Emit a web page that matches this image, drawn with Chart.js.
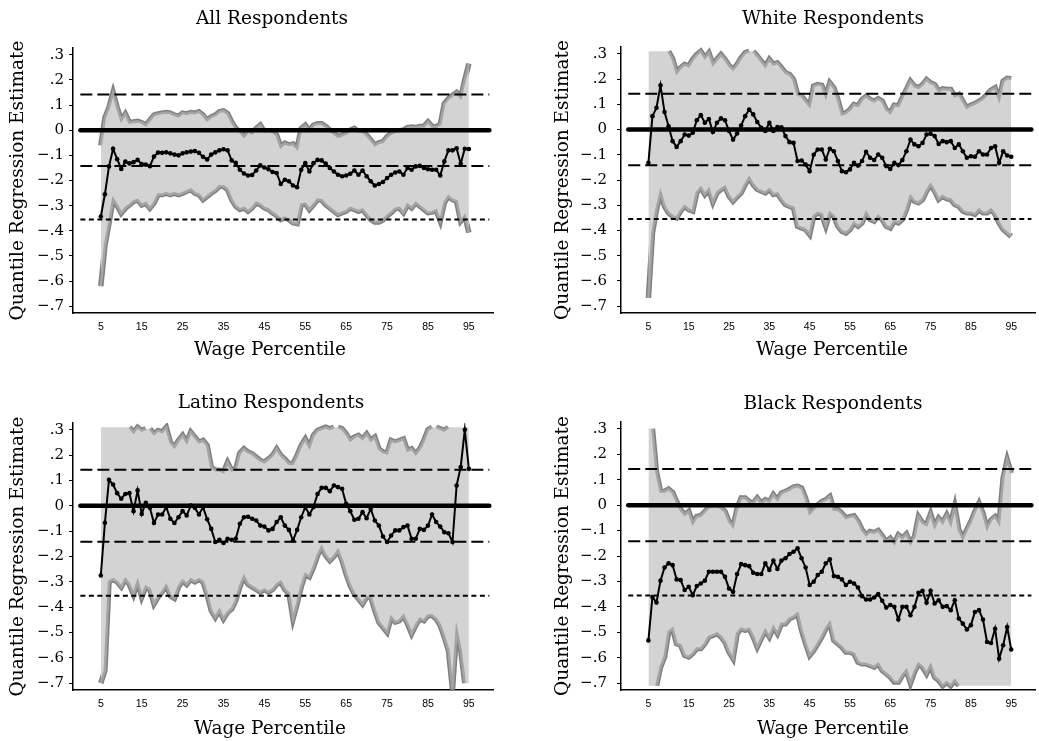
<!DOCTYPE html>
<html>
<head>
<meta charset="utf-8">
<title>Quantile Regression Estimates by Wage Percentile</title>
<script src="https://cdn.jsdelivr.net/npm/chart.js@4.4.1/dist/chart.umd.min.js"></script>
<style>
  body { margin: 0; background: #fff; }
  #page { position: relative; width: 1039px; height: 741px; overflow: hidden; }
  canvas { position: absolute; }
  .caption {
    position: absolute;
    font: 18.5px "DejaVu Serif", serif;
    line-height: 1;
    color: #000;
    white-space: nowrap;
    transform: translateX(-50%);
  }
</style>
</head>
<body>
<div id="page">
  <canvas id="allChart" width="520" height="370" style="left:0;top:0"></canvas>
  <canvas id="whiteChart" width="519" height="370" style="left:520px;top:0"></canvas>
  <canvas id="latinoChart" width="520" height="371" style="left:0;top:370px"></canvas>
  <canvas id="blackChart" width="519" height="371" style="left:520px;top:370px"></canvas>

  <div class="caption" style="left:272px;top:9px">All Respondents</div>
  <div class="caption" style="left:833px;top:9px">White Respondents</div>
  <div class="caption" style="left:271px;top:393px">Latino Respondents</div>
  <div class="caption" style="left:833px;top:394px">Black Respondents</div>

  <div class="caption" style="left:270px;top:340px">Wage Percentile</div>
  <div class="caption" style="left:832px;top:340px">Wage Percentile</div>
  <div class="caption" style="left:270px;top:719px">Wage Percentile</div>
  <div class="caption" style="left:833px;top:719px">Wage Percentile</div>
</div>

<script>
// wage percentiles on the x axis
const percentiles = [
  5, 6, 7, 8, 9, 10, 11, 12, 13, 14,
  15, 16, 17, 18, 19, 20, 21, 22, 23, 24,
  25, 26, 27, 28, 29, 30, 31, 32, 33, 34,
  35, 36, 37, 38, 39, 40, 41, 42, 43, 44,
  45, 46, 47, 48, 49, 50, 51, 52, 53, 54,
  55, 56, 57, 58, 59, 60, 61, 62, 63, 64,
  65, 66, 67, 68, 69, 70, 71, 72, 73, 74,
  75, 76, 77, 78, 79, 80, 81, 82, 83, 84,
  85, 86, 87, 88, 89, 90, 91, 92, 93, 94,
  95
];
const xTicks = [5, 15, 25, 35, 45, 55, 65, 75, 85, 95];
const yTicks = [0.3, 0.2, 0.1, 0, -0.1, -0.2, -0.3, -0.4, -0.5, -0.6, -0.7];
const yTickLabels = ['.3', '.2', '.1', '0', '\u2212.1', '\u2212.2', '\u2212.3', '\u2212.4', '\u2212.5', '\u2212.6', '\u2212.7'];

// horizontal reference lines
const refSpan = [0, 100];
const zeroLine = 0;
const bandLine = 0.142;
const floorLine = -0.355;

// All respondents
const allEst = [
  -0.343, -0.255, -0.144, -0.074, -0.115, -0.154, -0.125, -0.132, -0.127, -0.118,
  -0.135, -0.137, -0.143, -0.105, -0.089, -0.090, -0.088, -0.092, -0.097, -0.100,
  -0.092, -0.088, -0.085, -0.083, -0.090, -0.106, -0.116, -0.097, -0.088, -0.080,
  -0.076, -0.080, -0.120, -0.130, -0.157, -0.172, -0.180, -0.178, -0.160, -0.140,
  -0.148, -0.155, -0.166, -0.170, -0.214, -0.197, -0.203, -0.220, -0.227, -0.157,
  -0.131, -0.164, -0.131, -0.118, -0.120, -0.133, -0.150, -0.164, -0.177, -0.183,
  -0.180, -0.173, -0.160, -0.177, -0.160, -0.183, -0.203, -0.220, -0.214, -0.206,
  -0.190, -0.177, -0.168, -0.164, -0.177, -0.150, -0.157, -0.144, -0.142, -0.150,
  -0.155, -0.157, -0.157, -0.180, -0.124, -0.080, -0.080, -0.072, -0.133, -0.074,
  -0.075
];
const allHi = [
  -0.060, 0.050, 0.090, 0.150, 0.090, 0.040, 0.065, 0.030, 0.033, 0.035,
  0.030, 0.020, 0.040, 0.060, 0.065, 0.068, 0.070, 0.068, 0.060, 0.055,
  0.068, 0.065, 0.070, 0.068, 0.073, 0.060, 0.040, 0.053, 0.060, 0.073,
  0.077, 0.066, 0.033, 0.007, -0.006, -0.025, -0.006, -0.013, 0.007, 0.020,
  -0.006, -0.002, -0.006, -0.020, -0.066, -0.052, -0.059, -0.055, -0.072, 0.007,
  0.020, -0.002, 0.020, 0.026, 0.026, 0.015, 0.000, -0.013, -0.026, -0.020,
  -0.013, 0.000, 0.007, -0.006, -0.006, -0.020, -0.039, -0.059, -0.050, -0.046,
  -0.026, -0.013, -0.006, -0.002, 0.000, 0.010, 0.013, 0.010, 0.015, 0.015,
  0.033, 0.015, 0.013, 0.023, 0.105, 0.125, 0.138, 0.150, 0.130, 0.200,
  0.265
];
const allLo = [
  -0.620, -0.460, -0.370, -0.275, -0.300, -0.330, -0.310, -0.297, -0.283, -0.277,
  -0.297, -0.290, -0.310, -0.290, -0.256, -0.256, -0.250, -0.256, -0.250, -0.256,
  -0.250, -0.243, -0.236, -0.250, -0.256, -0.276, -0.263, -0.250, -0.239, -0.223,
  -0.223, -0.236, -0.276, -0.302, -0.315, -0.309, -0.322, -0.309, -0.289, -0.296,
  -0.309, -0.315, -0.328, -0.339, -0.355, -0.348, -0.355, -0.368, -0.371, -0.296,
  -0.292, -0.315, -0.296, -0.276, -0.278, -0.296, -0.309, -0.322, -0.335, -0.328,
  -0.322, -0.309, -0.315, -0.322, -0.315, -0.335, -0.355, -0.365, -0.365, -0.357,
  -0.341, -0.328, -0.312, -0.309, -0.328, -0.296, -0.309, -0.289, -0.302, -0.315,
  -0.328, -0.326, -0.318, -0.361, -0.289, -0.263, -0.276, -0.282, -0.361, -0.341,
  -0.407
];

// White respondents
const whiteEst = [
  -0.132, 0.053, 0.086, 0.175, 0.069, 0.013, -0.046, -0.069, -0.046, -0.020,
  -0.024, -0.013, 0.037, 0.057, 0.027, 0.042, -0.010, 0.027, 0.044, 0.037,
  -0.006, -0.040, -0.016, 0.016, 0.053, 0.079, 0.060, 0.030, 0.007, -0.006,
  0.027, -0.006, 0.010, 0.009, -0.026, -0.050, -0.053, -0.125, -0.123, -0.139,
  -0.165, -0.100, -0.079, -0.079, -0.119, -0.076, -0.086, -0.125, -0.165, -0.169,
  -0.158, -0.132, -0.143, -0.125, -0.088, -0.112, -0.121, -0.099, -0.112, -0.145,
  -0.156, -0.132, -0.141, -0.121, -0.086, -0.040, -0.059, -0.066, -0.053, -0.020,
  -0.017, -0.026, -0.057, -0.046, -0.050, -0.046, -0.073, -0.059, -0.086, -0.112,
  -0.106, -0.108, -0.086, -0.099, -0.099, -0.073, -0.066, -0.132, -0.086, -0.103,
  -0.108
];
const whiteHi = [
  0.310, 0.310, 0.310, 0.310, 0.310, 0.310, 0.280, 0.225, 0.245, 0.258,
  0.251, 0.278, 0.297, 0.310, 0.284, 0.304, 0.258, 0.278, 0.297, 0.278,
  0.254, 0.238, 0.258, 0.284, 0.304, 0.310, 0.310, 0.291, 0.271, 0.251,
  0.278, 0.258, 0.264, 0.245, 0.225, 0.218, 0.198, 0.139, 0.132, 0.112,
  0.093, 0.172, 0.178, 0.175, 0.132, 0.185, 0.165, 0.119, 0.060, 0.066,
  0.079, 0.099, 0.093, 0.119, 0.132, 0.119, 0.112, 0.122, 0.112, 0.079,
  0.066, 0.096, 0.093, 0.126, 0.159, 0.192, 0.172, 0.165, 0.178, 0.198,
  0.185, 0.178, 0.152, 0.161, 0.159, 0.159, 0.132, 0.139, 0.112, 0.086,
  0.096, 0.103, 0.112, 0.122, 0.139, 0.156, 0.165, 0.119, 0.192, 0.203,
  0.201
];
const whiteLo = [
  -0.667, -0.410, -0.317, -0.250, -0.304, -0.330, -0.343, -0.350, -0.323, -0.304,
  -0.317, -0.323, -0.250, -0.230, -0.257, -0.237, -0.288, -0.251, -0.237, -0.227,
  -0.264, -0.284, -0.266, -0.251, -0.218, -0.191, -0.218, -0.237, -0.244, -0.251,
  -0.237, -0.257, -0.253, -0.277, -0.297, -0.304, -0.310, -0.383, -0.390, -0.396,
  -0.416, -0.343, -0.330, -0.336, -0.383, -0.330, -0.343, -0.383, -0.403, -0.410,
  -0.396, -0.370, -0.383, -0.370, -0.330, -0.356, -0.363, -0.343, -0.356, -0.383,
  -0.390, -0.363, -0.370, -0.356, -0.317, -0.264, -0.284, -0.290, -0.277, -0.244,
  -0.218, -0.244, -0.277, -0.264, -0.274, -0.277, -0.297, -0.304, -0.323, -0.330,
  -0.330, -0.336, -0.317, -0.330, -0.330, -0.317, -0.336, -0.370, -0.396, -0.410,
  -0.423
];

// Latino respondents
const latinoEst = [
  -0.275, -0.067, 0.103, 0.084, 0.050, 0.028, 0.047, 0.050, -0.021, 0.061,
  -0.032, 0.012, -0.008, -0.068, -0.034, -0.034, -0.005, -0.051, -0.068, -0.045,
  -0.021, -0.038, 0.001, -0.008, -0.034, -0.005, -0.053, -0.091, -0.143, -0.134,
  -0.147, -0.130, -0.134, -0.130, -0.071, -0.045, -0.043, -0.051, -0.058, -0.078,
  -0.082, -0.097, -0.091, -0.064, -0.045, -0.078, -0.095, -0.137, -0.095, -0.045,
  -0.005, -0.034, -0.005, 0.047, 0.071, 0.071, 0.058, 0.080, 0.074, 0.067,
  0.008, -0.021, -0.055, -0.051, -0.025, -0.049, -0.012, -0.058, -0.078, -0.121,
  -0.143, -0.117, -0.097, -0.097, -0.084, -0.078, -0.130, -0.130, -0.091, -0.095,
  -0.078, -0.034, -0.064, -0.082, -0.104, -0.108, -0.143, 0.080, 0.153, 0.300,
  0.146
];
const latinoHi = [
  0.310, 0.310, 0.310, 0.310, 0.310, 0.310, 0.310, 0.310, 0.290, 0.310,
  0.297, 0.304, 0.304, 0.284, 0.297, 0.291, 0.310, 0.251, 0.232, 0.258,
  0.278, 0.251, 0.291, 0.271, 0.251, 0.258, 0.238, 0.153, 0.140, 0.140,
  0.133, 0.172, 0.140, 0.146, 0.208, 0.225, 0.212, 0.205, 0.192, 0.179,
  0.172, 0.185, 0.199, 0.225, 0.199, 0.185, 0.166, 0.166, 0.199, 0.238,
  0.264, 0.232, 0.278, 0.297, 0.304, 0.310, 0.304, 0.310, 0.310, 0.304,
  0.284, 0.258, 0.271, 0.278, 0.264, 0.284, 0.258, 0.271, 0.225, 0.212,
  0.208, 0.258, 0.251, 0.258, 0.264, 0.218, 0.225, 0.205, 0.225, 0.258,
  0.300, 0.310, 0.310, 0.304, 0.297, 0.310, 0.310, 0.310, 0.310, 0.310,
  0.310
];
const latinoLo = [
  -0.700, -0.650, -0.300, -0.290, -0.300, -0.320, -0.290, -0.310, -0.350, -0.300,
  -0.360, -0.320, -0.330, -0.387, -0.360, -0.340, -0.315, -0.355, -0.365, -0.320,
  -0.295, -0.310, -0.290, -0.300, -0.290, -0.300, -0.350, -0.413, -0.440, -0.413,
  -0.446, -0.420, -0.407, -0.374, -0.320, -0.280, -0.310, -0.320, -0.330, -0.340,
  -0.330, -0.340, -0.330, -0.310, -0.300, -0.330, -0.345, -0.446, -0.387, -0.320,
  -0.270, -0.280, -0.242, -0.196, -0.163, -0.196, -0.216, -0.200, -0.176, -0.216,
  -0.270, -0.315, -0.348, -0.367, -0.387, -0.360, -0.360, -0.413, -0.459, -0.479,
  -0.499, -0.440, -0.459, -0.453, -0.433, -0.466, -0.505, -0.472, -0.446, -0.453,
  -0.433, -0.433, -0.446, -0.472, -0.518, -0.571, -0.725, -0.492, -0.570, -0.700,
  -0.700
];

// Black respondents
const blackEst = [
  -0.532, -0.361, -0.383, -0.297, -0.245, -0.229, -0.236, -0.292, -0.295, -0.334,
  -0.321, -0.354, -0.318, -0.308, -0.297, -0.262, -0.262, -0.262, -0.262, -0.282,
  -0.328, -0.341, -0.271, -0.232, -0.236, -0.240, -0.266, -0.271, -0.271, -0.229,
  -0.255, -0.218, -0.251, -0.218, -0.209, -0.192, -0.183, -0.170, -0.209, -0.245,
  -0.314, -0.301, -0.275, -0.262, -0.229, -0.213, -0.279, -0.282, -0.292, -0.314,
  -0.301, -0.308, -0.324, -0.358, -0.371, -0.371, -0.363, -0.350, -0.376, -0.403,
  -0.393, -0.400, -0.450, -0.400, -0.400, -0.433, -0.400, -0.345, -0.337, -0.384,
  -0.337, -0.387, -0.374, -0.400, -0.397, -0.413, -0.374, -0.446, -0.466, -0.489,
  -0.472, -0.420, -0.413, -0.450, -0.538, -0.542, -0.486, -0.604, -0.551, -0.479,
  -0.568
];
const blackHi = [
  0.300, 0.300, 0.130, 0.054, 0.054, 0.063, 0.050, 0.014, -0.018, -0.038,
  -0.025, -0.071, -0.045, -0.042, -0.025, -0.008, -0.005, -0.005, -0.012, -0.025,
  -0.064, -0.084, -0.012, 0.028, 0.028, 0.014, 0.008, 0.028, 0.008, 0.021,
  0.014, 0.041, 0.021, 0.047, 0.054, 0.061, 0.071, 0.074, 0.067, 0.028,
  -0.032, -0.016, 0.001, 0.014, 0.021, 0.034, -0.018, -0.018, -0.032, -0.051,
  -0.045, -0.042, -0.064, -0.097, -0.117, -0.104, -0.108, -0.100, -0.121, -0.143,
  -0.130, -0.150, -0.117, -0.130, -0.113, -0.150, -0.124, -0.045, -0.069, -0.078,
  -0.034, -0.084, -0.051, -0.069, -0.038, -0.074, -0.005, -0.097, -0.130, -0.097,
  -0.064, -0.025, 0.008, -0.032, -0.091, -0.058, -0.045, -0.071, 0.107, 0.179,
  0.126
];
const blackLo = [
  -0.710, -0.710, -0.710, -0.637, -0.597, -0.499, -0.486, -0.545, -0.551, -0.591,
  -0.597, -0.584, -0.564, -0.564, -0.545, -0.518, -0.512, -0.505, -0.518, -0.538,
  -0.578, -0.604, -0.505, -0.486, -0.492, -0.486, -0.518, -0.558, -0.525, -0.492,
  -0.518, -0.479, -0.505, -0.466, -0.466, -0.446, -0.439, -0.426, -0.492, -0.545,
  -0.591, -0.571, -0.545, -0.518, -0.486, -0.463, -0.531, -0.545, -0.558, -0.578,
  -0.578, -0.584, -0.617, -0.624, -0.624, -0.630, -0.637, -0.624, -0.650, -0.663,
  -0.676, -0.696, -0.696, -0.669, -0.650, -0.700, -0.656, -0.624, -0.637, -0.663,
  -0.630, -0.676, -0.689, -0.710, -0.696, -0.710, -0.689, -0.710, -0.710, -0.710,
  -0.710, -0.710, -0.710, -0.710, -0.710, -0.710, -0.710, -0.710, -0.710, -0.710,
  -0.710
];

Chart.defaults.font.family = '"DejaVu Serif", serif';
Chart.defaults.color = '#000';

const rimDark = '#808080';
const rimMid = '#a4a4a4';
const bandFill = '#d3d3d3';

// no rim where the band runs flat along the top or bottom of the plot
const flatEdge = ctx => {
  const a = ctx.p0.parsed.y, b = ctx.p1.parsed.y;
  return a === b && (a >= 0.3 || a <= -0.7);
};
const rimSegment = { borderColor: ctx => flatEdge(ctx) ? 'rgba(0,0,0,0)' : undefined };

const lineAt = y => refSpan.map(x => ({ x: x, y: y }));

const rim = (data, color, width, order) => ({
  data: data, borderColor: color, borderWidth: width, pointRadius: 0,
  segment: rimSegment, order: order
});

function drawPanel(canvasId, est, hi, lo, box) {
  const ctx = document.getElementById(canvasId).getContext('2d');
  return new Chart(ctx, {
    type: 'line',
    data: {
      labels: percentiles,
      datasets: [
        { data: est, borderColor: '#000', borderWidth: 2, pointRadius: 2.3,
          pointBackgroundColor: '#000', pointBorderWidth: 0, order: 0 },
        { data: lineAt(zeroLine), borderColor: '#000', borderWidth: 4.5,
          borderCapStyle: 'round', pointRadius: 0, order: 1 },
        { data: lineAt(bandLine), borderColor: '#000', borderWidth: 2,
          borderDash: [12, 5], pointRadius: 0, order: 2 },
        { data: lineAt(-bandLine), borderColor: '#000', borderWidth: 2,
          borderDash: [12, 5], pointRadius: 0, order: 2 },
        { data: lineAt(floorLine), borderColor: '#000', borderWidth: 2,
          borderDash: [5, 3.5], pointRadius: 0, order: 2 },
        // shaded interval between the bounds
        { data: hi, borderWidth: 0, pointRadius: 0, fill: '+1',
          backgroundColor: bandFill, order: 5 },
        { data: lo, borderWidth: 0, pointRadius: 0, order: 5 },
        rim(hi, rimMid, 2.5, 4),
        rim(lo, rimMid, 2.5, 4),
        rim(hi, rimDark, 5.5, 6),
        rim(lo, rimDark, 5.5, 6)
      ]
    },
    options: {
      responsive: false,
      animation: false,
      layout: { padding: box.padding },
      plugins: { legend: { display: false }, tooltip: { enabled: false } },
      scales: {
        x: {
          type: 'linear',
          min: -1.8,
          max: 100.9,
          grid: { display: false, drawTicks: false },
          border: { color: '#000', width: 1.5 },
          afterBuildTicks: s => { s.ticks = xTicks.map(v => ({ value: v })); },
          afterFit: s => { s.height = box.xHeight; },
          ticks: {
            autoSkip: false,
            maxRotation: 0,
            padding: 8,
            font: { family: '"Liberation Sans", sans-serif', size: 10.5 }
          }
        },
        y: {
          type: 'linear',
          min: -0.727,
          max: 0.327,
          grid: { drawOnChartArea: false, tickLength: 4, color: '#000' },
          border: { color: '#000', width: 1.5 },
          afterBuildTicks: s => { s.ticks = yTicks.map(v => ({ value: v })); },
          afterFit: s => { s.width = box.yWidth; },
          ticks: {
            autoSkip: false,
            padding: box.tickPad,
            font: { size: 15 },
            callback: (v, i) => yTickLabels[i]
          },
          title: {
            display: true,
            text: 'Quantile Regression Estimate',
            font: { size: 18.5 },
            padding: { top: box.titlePad, bottom: 0 }
          }
        }
      }
    }
  });
}

drawPanel('allChart', allEst, allHi, allLo,
  { padding: { top: 48, right: 27, bottom: 0, left: 0 }, xHeight: 57, yWidth: 73, tickPad: 5, titlePad: 7 });
drawPanel('whiteChart', whiteEst, whiteHi, whiteLo,
  { padding: { top: 47, right: 2, bottom: 0, left: 0 }, xHeight: 57, yWidth: 101, tickPad: 10, titlePad: 32.5 });
drawPanel('latinoChart', latinoEst, latinoHi, latinoLo,
  { padding: { top: 53, right: 27, bottom: 0, left: 0 }, xHeight: 51, yWidth: 73, tickPad: 5, titlePad: 7 });
drawPanel('blackChart', blackEst, blackHi, blackLo,
  { padding: { top: 52, right: 2, bottom: 0, left: 0 }, xHeight: 51, yWidth: 101, tickPad: 10, titlePad: 32.5 });
</script>
</body>
</html>
